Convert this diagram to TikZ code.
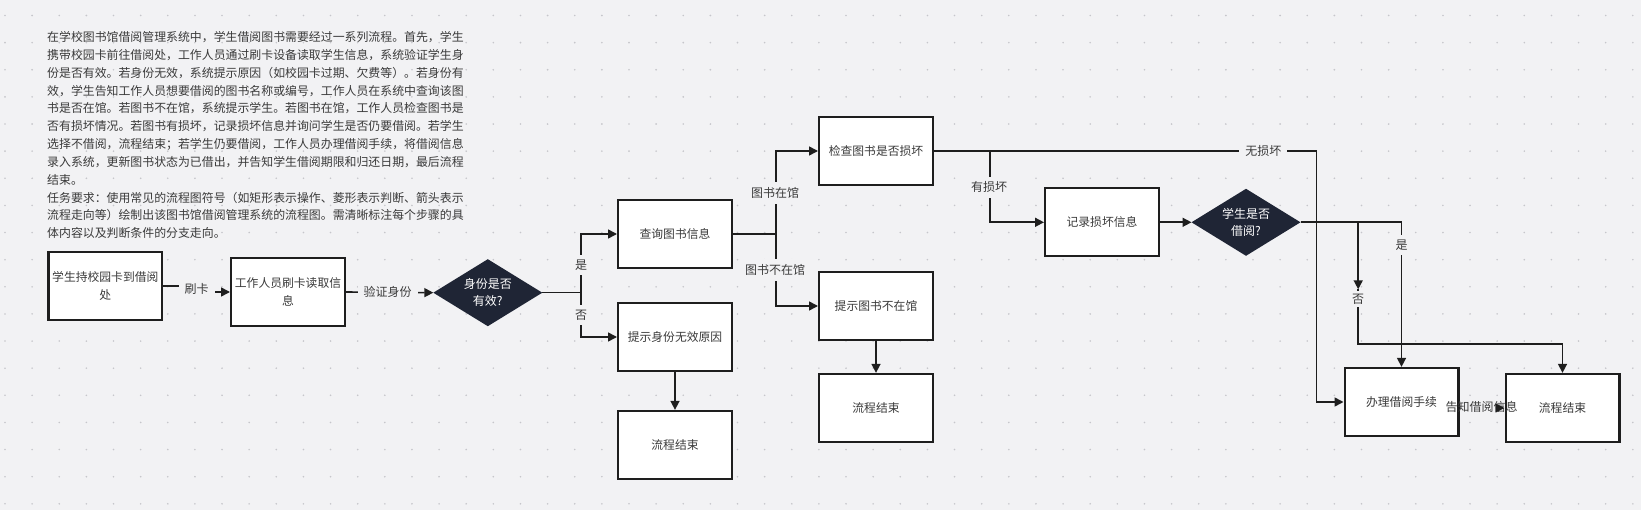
\documentclass[tikz,border=0pt]{standalone}
\usepackage{fontspec}
\setmainfont{Noto Sans CJK SC}
\usetikzlibrary{shapes.geometric,arrows.meta,calc}
\definecolor{bgc}{HTML}{F2F2F4}
\definecolor{dotc}{HTML}{C6C6CB}
\definecolor{linec}{HTML}{1E1E1E}
\definecolor{txtc}{HTML}{3A3A3A}
\definecolor{diac}{HTML}{1F2535}
\begin{document}
\begin{tikzpicture}[x=1pt,y=-1pt,
  box/.style={draw=linec, line width=2.3pt, fill=white, minimum width=113.7pt, minimum height=68pt,
    inner sep=0pt, align=center, text=txtc, font=\fontsize{11.8}{18}\selectfont},
  dia/.style={diamond, fill=diac, draw=none, aspect=1.63, minimum width=109pt, minimum height=67pt,
    inner sep=0pt, outer sep=0pt, align=center, text=white, font=\fontsize{12}{17}\selectfont},
  conn/.style={draw=linec, line width=1.6pt, -{Triangle[length=9pt,width=9pt]}},
  lab/.style={fill=bgc, inner xsep=6pt, inner ysep=5pt, text=txtc, font=\fontsize{12}{14}\selectfont},
  labnf/.style={inner sep=0pt, text=txtc, font=\fontsize{12}{14}\selectfont},
  para/.style={anchor=west, inner sep=0pt, text=txtc, font=\fontsize{11.9}{14}\selectfont}
]
\useasboundingbox (0,0) rectangle (1641,510);
\fill[bgc] (0,0) rectangle (1641,510);
\foreach \i in {0,...,60} \foreach \j in {0,...,18}
  \fill[dotc] (5+27.13*\i, 15.5+27.13*\j) circle (0.9pt);

% paragraph
\node[para] (t1) at (47,37.3) {在学校图书馆借阅管理系统中，学生借阅图书需要经过一系列流程。首先，学生};
\node[para] (t2) at (47,55.1) {携带校园卡前往借阅处，工作人员通过刷卡设备读取学生信息，系统验证学生身};
\node[para] (t3) at (47,72.9) {份是否有效。若身份无效，系统提示原因（如校园卡过期、欠费等）。若身份有};
\node[para] (t4) at (47,90.7) {效，学生告知工作人员想要借阅的图书名称或编号，工作人员在系统中查询该图};
\node[para] (t5) at (47,108.5) {书是否在馆。若图书不在馆，系统提示学生。若图书在馆，工作人员检查图书是};
\node[para] (t6) at (47,126.3) {否有损坏情况。若图书有损坏，记录损坏信息并询问学生是否仍要借阅。若学生};
\node[para] (t7) at (47,144.1) {选择不借阅，流程结束；若学生仍要借阅，工作人员办理借阅手续，将借阅信息};
\node[para] (t8) at (47,161.9) {录入系统，更新图书状态为已借出，并告知学生借阅期限和归还日期，最后流程};
\node[para] (t9) at (47,179.7) {结束。};
\node[para] (t10) at (47,197.5) {任务要求：使用常见的流程图符号（如矩形表示操作、菱形表示判断、箭头表示};
\node[para] (t11) at (47,215.3) {流程走向等）绘制出该图书馆借阅管理系统的流程图。需清晰标注每个步骤的具};
\node[para] (t12) at (47,233.1) {体内容以及判断条件的分支走向。};

% nodes
\node[box] (b1) at (105.3,286) {学生持校园卡到借阅\\处};
\node[box] (b2) at (288,292) {工作人员刷卡读取信\\息};
\node[dia] (d1) at (487.8,292.7) {身份是否\\有效?};
\node[box] (b3) at (675,234) {查询图书信息};
\node[box] (b4) at (675,337) {提示身份无效原因};
\node[box] (b5) at (675,445) {流程结束};
\node[box] (b6) at (876,151) {检查图书是否损坏};
\node[box] (b7) at (876,306) {提示图书不在馆};
\node[box] (b8) at (876,408) {流程结束};
\node[box] (b9) at (1102,222.3) {记录损坏信息};
\node[dia] (d2) at (1246,222.3) {学生是否\\借阅?};
\node[box] (b10) at (1401.5,402) {办理借阅手续};
\node[box] (b11) at (1562.5,408) {流程结束};

% connectors
\draw[conn] (b1.east) -- ++(33.5,0) |- (b2.west);
\node[lab] (l1) at (196.7,289) {刷卡};
\draw[conn] (b2.east) -- (d1.west);
\node[lab] (l2) at (387.7,292.3) {验证身份};

\draw[conn] (d1.east) -- ++(38.5,0) |- (b3.west);
\draw[conn] (d1.east) -- ++(38.5,0) |- (b4.west);
\node[lab] (l3) at (581,265) {是};
\node[lab] (l4) at (581,315) {否};
\draw[conn] (b4.south) -- (b5.north);

\draw[conn] (b3.east) -- ++(43,0) |- (b6.west);
\draw[conn] (b3.east) -- ++(43,0) |- (b7.west);
\node[lab] (l5) at (775,193) {图书在馆};
\node[lab] (l6) at (775,270) {图书不在馆};
\draw[conn] (b7.south) -- (b8.north);

\draw[conn] (b6.east) -- ++(382.5,0) |- (b10.west);
\draw[conn] (b6.east) -- ++(55.7,0) |- (b9.west);
\node[lab] (l7) at (1263.3,151) {无损坏};
\node[lab] (l8) at (989,187.3) {有损坏};
\draw[conn] (b9.east) -- (d2.west);

\draw[conn] (d2.east) -| (b10.north);
\node[lab] (l9) at (1401.5,245) {是};
\draw[conn] (d2.east) -- ++(57.7,0) -- ++(0,67) coordinate (nmid);
\draw[conn] (nmid) -- ++(0,55) -| (b11.north);
\node[lab, inner ysep=3pt] (l10) at ($(nmid)+(0,10)$) {否};

\node[labnf] (l11) at (1481.7,406.7) {告知借阅信息};
\draw[conn, shorten <=36pt] (b10.east |- b11.west) -- (b11.west);
\end{tikzpicture}
\end{document}
